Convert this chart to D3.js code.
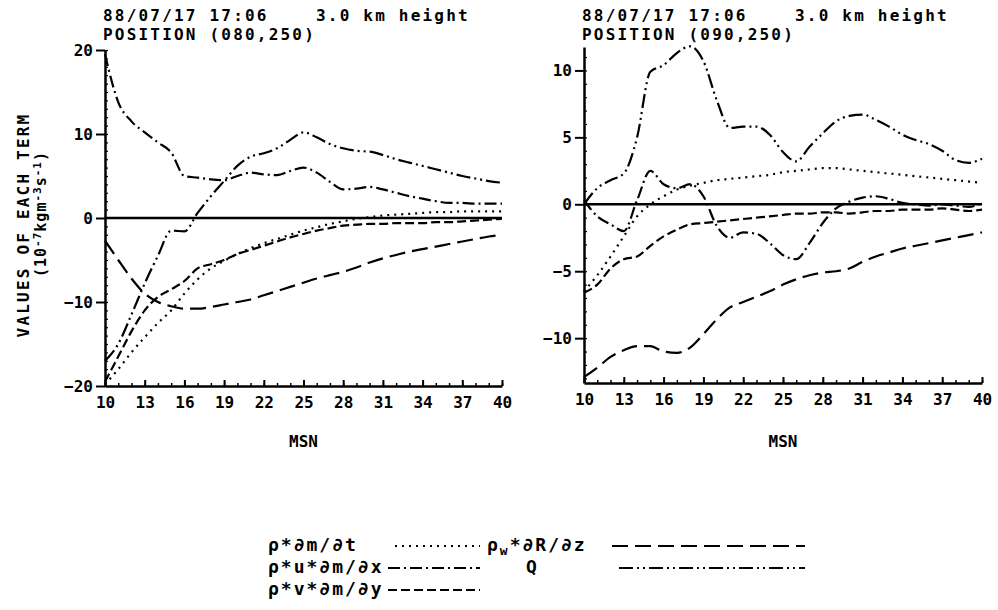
<!DOCTYPE html>
<html><head><meta charset="utf-8">
<script src="https://cdn.jsdelivr.net/npm/d3@7"></script>
<style>
body{margin:0;background:#fff}
svg{display:block}
text{font-family:"DejaVu Sans Mono",monospace;font-weight:bold;fill:#000}
</style>
</head><body>
<svg id="c" width="998" height="610"></svg>
<script>
// ---------- DATA ----------
const msn = [10,11,12,13,14,15,16,17,18,19,20,21,22,23,24,25,26,27,28,29,30,31,32,33,34,35,36,37,38,39,40];
const xTicks = [10,13,16,19,22,25,28,31,34,37,40];
const leftYTicks = [-20,-10,0,10,20];
const rightYTicks = [-10,-5,0,5,10];

// Left panel: POSITION (080,250)
const leftDmDt   = [-19.8,-18,-16,-14.2,-12.5,-11,-9,-7.3,-6,-5.1,-4.3,-3.6,-3.0,-2.5,-2.0,-1.5,-1.1,-0.7,-0.4,-0.1,0.1,0.3,0.4,0.5,0.6,0.7,0.7,0.8,0.8,0.8,0.8];
const leftUDmDx  = [19.5,13.8,11.5,10.2,9.0,7.8,5.0,4.8,4.6,4.5,5.0,5.4,5.2,5.1,5.6,6.0,5.4,4.3,3.4,3.5,3.7,3.4,3.0,2.6,2.3,2.0,1.8,1.8,1.7,1.7,1.7];
const leftVDmDy  = [-19.5,-16.5,-13.5,-11,-9.4,-8.5,-7.5,-6,-5.5,-5.0,-4.3,-3.8,-3.3,-2.8,-2.3,-1.9,-1.5,-1.2,-0.9,-0.8,-0.7,-0.7,-0.6,-0.6,-0.6,-0.5,-0.5,-0.4,-0.3,-0.2,-0.1];
const leftWDRDz  = [-2.7,-5,-7.2,-9,-10,-10.5,-10.8,-10.8,-10.6,-10.3,-10.0,-9.7,-9.2,-8.7,-8.2,-7.7,-7.2,-6.8,-6.4,-5.9,-5.3,-4.8,-4.4,-4.0,-3.7,-3.4,-3.1,-2.8,-2.5,-2.2,-2.0];
const leftQ      = [-17,-15,-11.5,-7.8,-4.5,-1.5,-1.6,0.6,2.6,4.4,6.2,7.3,7.7,8.3,9.3,10.2,9.6,8.8,8.3,8.0,7.9,7.5,7.0,6.6,6.2,5.8,5.4,5.0,4.7,4.4,4.2];

// Right panel: POSITION (090,250)
const rightDmDt  = [-6.5,-5.3,-3.9,-2.4,-0.9,0,0.6,1.1,1.4,1.6,1.8,1.9,2.0,2.1,2.2,2.4,2.5,2.6,2.7,2.7,2.6,2.5,2.4,2.3,2.2,2.1,2.0,1.9,1.8,1.7,1.6];
const rightUDmDx = [0.3,-0.9,-1.5,-2.0,0.3,2.5,1.5,1.2,1.5,0.6,-1.6,-2.5,-2.1,-2.2,-2.9,-3.8,-4.1,-2.9,-1.4,-0.3,0.2,0.5,0.6,0.4,0.1,0.0,-0.1,0.0,-0.1,-0.2,0.1];
const rightVDmDy = [-6.6,-6.0,-4.8,-4.1,-3.9,-3.1,-2.4,-1.9,-1.5,-1.4,-1.3,-1.2,-1.1,-1.0,-0.9,-0.8,-0.7,-0.7,-0.6,-0.6,-0.7,-0.6,-0.5,-0.5,-0.4,-0.4,-0.4,-0.3,-0.4,-0.5,-0.4];
const rightWDRDz = [-12.9,-12.2,-11.4,-10.9,-10.6,-10.6,-11.0,-11.1,-10.7,-9.7,-8.6,-7.7,-7.3,-6.9,-6.5,-6.0,-5.6,-5.3,-5.1,-5.0,-4.8,-4.3,-3.9,-3.6,-3.3,-3.1,-2.9,-2.7,-2.5,-2.3,-2.1];
const rightQ     = [0,1.2,1.8,2.3,5.0,9.9,10.4,11.3,11.8,10.7,7.8,5.7,5.8,5.8,5.2,3.9,3.2,4.3,5.3,6.2,6.6,6.7,6.3,5.8,5.2,4.8,4.5,4.0,3.3,3.1,3.4];

const seriesNames = ["dmdt","udmdx","vdmdy","wdrdz","q"];
const leftTitle  = ["88/07/17 17:06    3.0 km height","POSITION (080,250)"];
const rightTitle = ["88/07/17 17:06    3.0 km height","POSITION (090,250)"];
const xLabel = "MSN";

// ---------- STYLES ----------
const dash = {dmdt:"2,5", udmdx:"12,4,2,4", vdmdy:"9,4", wdrdz:"16,7", q:"14,4,2,4,2,4"};

const svg = d3.select("#c");

function panel(cfg){
  const x = d3.scaleLinear().domain([10,40]).range(cfg.xr);
  const y = d3.scaleLinear().domain(cfg.yd).range(cfg.yr);
  const g = svg.append("g");

  // titles
  cfg.title.forEach((t,i)=>{
    g.append("text").attr("x",cfg.xr[0]-2).attr("y",21+i*19)
      .attr("xml:space","preserve").style("white-space","pre")
      .style("font-size","16px").style("letter-spacing","2.2px").text(t);
  });

  // minor x ticks
  const xMinor = d3.axisBottom(x).tickValues(msn).tickSizeInner(-3).tickSizeOuter(0).tickFormat("");
  g.append("g").attr("transform",`translate(0,${cfg.yr[0]})`).call(xMinor)
    .call(a=>a.select(".domain").remove())
    .call(a=>a.selectAll("line").attr("stroke-width",1.5));
  // major x ticks
  const xAxis = d3.axisBottom(x).tickValues(xTicks).tickSizeInner(-6).tickSizeOuter(0).tickPadding(11);
  g.append("g").attr("transform",`translate(0,${cfg.yr[0]})`).call(xAxis)
    .call(a=>a.select(".domain").attr("stroke-width",2.5))
    .call(a=>a.selectAll("line").attr("stroke-width",2))
    .call(a=>a.selectAll("text").style("font-size","16px").style("font-family","'DejaVu Sans Mono',monospace").style("font-weight","bold"));

  // minor y ticks
  const yMinorVals = d3.ticks(cfg.yd[0], cfg.yd[1], cfg.minorCount);
  const yMinor = d3.axisLeft(y).tickValues(yMinorVals).tickSizeInner(-3).tickSizeOuter(0).tickFormat("");
  g.append("g").attr("transform",`translate(${cfg.xr[0]},0)`).call(yMinor)
    .call(a=>a.select(".domain").remove())
    .call(a=>a.selectAll("line").attr("stroke-width",1.2));
  // major y ticks
  const yAxis = d3.axisLeft(y).tickValues(cfg.yTicks).tickSizeInner(9).tickSizeOuter(0).tickPadding(3);
  g.append("g").attr("transform",`translate(${cfg.xr[0]},0)`).call(yAxis)
    .call(a=>a.select(".domain").attr("stroke-width",2.5))
    .call(a=>a.selectAll("line").attr("stroke-width",2))
    .call(a=>a.selectAll("text").style("font-size","16px").style("font-family","'DejaVu Sans Mono',monospace").style("font-weight","bold"));

  // zero line
  g.append("line").attr("x1",x(10)).attr("x2",x(40)).attr("y1",y(0)).attr("y2",y(0))
    .attr("stroke","#000").attr("stroke-width",2.6);

  // curves
  const line = d3.line().x((d,i)=>x(msn[i])).y(d=>y(d)).curve(d3.curveMonotoneX);
  cfg.series.forEach((vals,k)=>{
    g.append("path").attr("d",line(vals)).attr("fill","none").attr("stroke","#000")
      .attr("stroke-width",2.2).attr("stroke-dasharray",dash[seriesNames[k]]);
  });

  // x label
  g.append("text").attr("x",x(25)).attr("y",447).attr("text-anchor","middle")
    .style("font-size","16px").text(xLabel);
}

panel({xr:[105,502], yd:[-20,20], yr:[386,50], yTicks:leftYTicks, minorCount:40, title:leftTitle,
  series:[leftDmDt,leftUDmDx,leftVDmDy,leftWDRDz,leftQ]});
panel({xr:[584,982], yd:[-13.35,11.75], yr:[383,47], yTicks:rightYTicks, minorCount:25, title:rightTitle,
  series:[rightDmDt,rightUDmDx,rightVDmDy,rightWDRDz,rightQ]});

// y-axis title (left panel)
const yt = svg.append("g");
yt.append("text").attr("transform","translate(29,225) rotate(-90)").attr("text-anchor","middle")
  .style("font-size","16px").style("letter-spacing","2.2px").text("VALUES OF EACH TERM");
const t2 = yt.append("text").attr("transform","translate(46,214) rotate(-90)").attr("text-anchor","middle")
  .style("font-size","15px").style("letter-spacing","1px");
t2.append("tspan").text("(10");
t2.append("tspan").attr("dy",-5).style("font-size","11px").text("-7");
t2.append("tspan").attr("dy",5).text("kgm");
t2.append("tspan").attr("dy",-5).style("font-size","11px").text("-3");
t2.append("tspan").attr("dy",5).text("s");
t2.append("tspan").attr("dy",-5).style("font-size","11px").text("-1");
t2.append("tspan").attr("dy",5).text(")");

// ---------- LEGEND ----------
const legendItems = [
  {key:"dmdt",  parts:[["ρ*∂m/∂t",0]], tx:268, ty:551, lx:[395,480]},
  {key:"udmdx", parts:[["ρ*u*∂m/∂x",0]], tx:268, ty:573, lx:[388,480]},
  {key:"vdmdy", parts:[["ρ*v*∂m/∂y",0]], tx:268, ty:595, lx:[388,480]},
  {key:"wdrdz", parts:[["ρ",0],["w",1],["*∂R/∂z",0]], tx:487, ty:551, lx:[612,805]},
  {key:"q",     parts:[["Q",0]], tx:526, ty:573, lx:[619,805]}
];
const lg = svg.append("g");
legendItems.forEach(it=>{
  const t = lg.append("text").attr("x",it.tx).attr("y",it.ty)
    .style("font-size","18px").style("letter-spacing","2px");
  let sub=false;
  it.parts.forEach(([s,isSub])=>{
    const ts = t.append("tspan").text(s);
    if(isSub && !sub){ts.attr("dy",4).style("font-size","13px"); sub=true;}
    else if(!isSub && sub){ts.attr("dy",-4); sub=false;}
  });
  lg.append("line").attr("x1",it.lx[0]).attr("x2",it.lx[1]).attr("y1",it.ty-5).attr("y2",it.ty-5)
    .attr("stroke","#000").attr("stroke-width",2.2).attr("stroke-dasharray",dash[it.key]);
});
</script>
</body></html>
